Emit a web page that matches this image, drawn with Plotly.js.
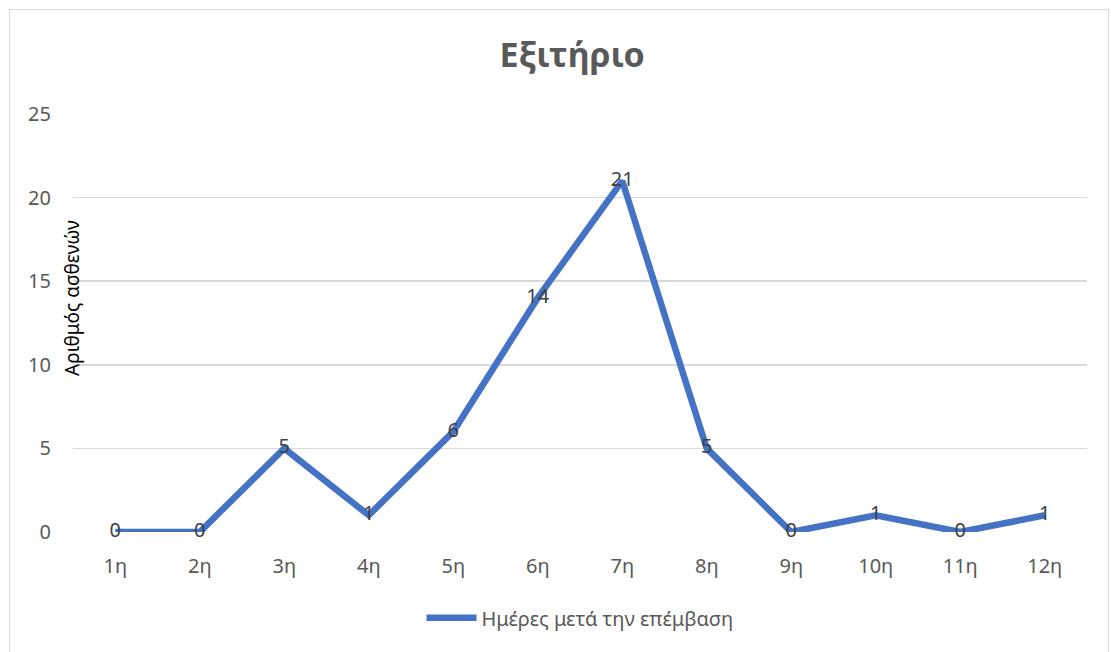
<!DOCTYPE html>
<html>
<head>
<meta charset="utf-8">
<script src="https://cdn.plot.ly/plotly-3.0.1.min.js"></script>
<style>
html,body{margin:0;padding:0;background:#fff;}
#wrap{position:relative;width:1111px;height:652px;}
#chart{position:absolute;left:0;top:0;width:1111px;height:652px;}
#frame{position:absolute;left:9px;top:9px;width:1098px;height:650px;border:1px solid #d9d9d9;pointer-events:none;}
</style>
</head>
<body>
<div id="wrap"><div id="chart"></div><div id="frame"></div></div>
<script>
const categories = ["1η","2η","3η","4η","5η","6η","7η","8η","9η","10η","11η","12η"];
const patients = [0,0,5,1,6,14,21,5,0,1,0,1];
const seriesName = "Ημέρες μετά την επέμβαση";
const chartTitle = "Εξιτήριο";
const yTitle = "Αριθμός ασθενών";

const font = "'Noto Sans', 'DejaVu Sans', sans-serif";
const trace = {
  x: categories, y: patients, type: "scatter", mode: "lines+text",
  name: seriesName,
  line: {color: "#4472C4", width: 6.5},
  text: patients.map(String), textposition: "middle center",
  textfont: {family: font, size: 20, color: "#404040"},
  cliponaxis: false
};
const layout = {
  width: 1111, height: 652,
  margin: {l: 73, r: 24, t: 114, b: 120},
  paper_bgcolor: "#fff", plot_bgcolor: "#fff",
  font: {family: font, color: "#595959", size: 20},
  title: {text: "<b>" + chartTitle + "</b>", font: {family: font, size: 34, color: "#595959"}, x: 0.515, xanchor: "center", y: 0.915, yanchor: "middle"},
  xaxis: {type: "category", range: [-0.5, 11.5], showgrid: false, zeroline: false, showline: false, ticks: "", tickfont: {size: 20, color: "#595959"}, ticklabelstandoff: 20},
  yaxis: {range: [0, 25], dtick: 5, showgrid: true, gridcolor: "#d9d9d9", gridwidth: 1.5, zeroline: false, showline: false, ticks: "", tickfont: {size: 20, color: "#595959"}, ticklabelstandoff: 21},
  showlegend: true,
  legend: {orientation: "h", x: 0.5, xanchor: "center", y: -0.205, yanchor: "middle", font: {size: 20, color: "#595959"}, itemwidth: 50},
  annotations: [{text: yTitle, xref: "paper", yref: "paper", x: -0.001, y: 0.56, textangle: -90, showarrow: false, xanchor: "center", yanchor: "middle", font: {family: font, size: 19, color: "#000"}}]
};
Plotly.newPlot("chart", [trace], layout, {displayModeBar: false, staticPlot: true});
</script>
</body>
</html>
